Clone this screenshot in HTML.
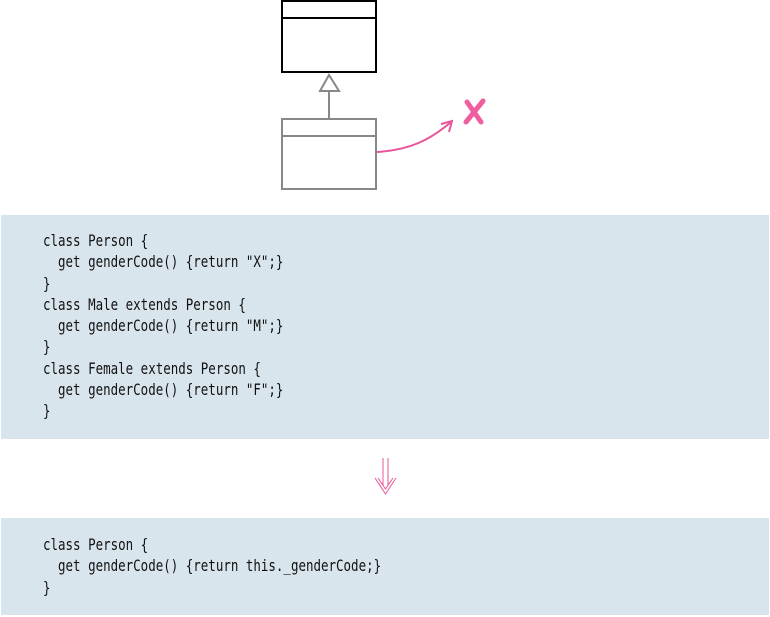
<!DOCTYPE html>
<html><head><meta charset="utf-8"><style>
body{margin:0;width:770px;height:617px;background:#fff;position:relative;overflow:hidden}
.p{position:absolute;left:1px;width:768px;background:#d9e5ec}
pre{position:absolute;left:43px;margin:0;font-family:"DejaVu Sans Mono","Liberation Mono",monospace;font-size:16px;line-height:21.3px;color:#111;transform:scaleX(0.78);transform-origin:0 0}
</style></head><body>
<svg width="770" height="617" style="position:absolute;left:0;top:0">
<rect x="282" y="1" width="94" height="71" fill="none" stroke="#000" stroke-width="2"/>
<line x1="282" y1="18" x2="376" y2="18" stroke="#000" stroke-width="2"/>
<rect x="282" y="119" width="94" height="70" fill="none" stroke="#888" stroke-width="2"/>
<line x1="282" y1="136" x2="376" y2="136" stroke="#888" stroke-width="2"/>
<line x1="329" y1="91" x2="329" y2="119" stroke="#888" stroke-width="2"/>
<polygon points="329,75 320,91 339,91" fill="#fff" stroke="#888" stroke-width="2"/>
<path d="M377,152 C410,150 430,140 451,122" fill="none" stroke="#e8559a" stroke-width="2"/>
<path d="M441,124 L452,121 L449,132" fill="none" stroke="#e8559a" stroke-width="2"/>
<path d="M467,102 L481,122 M483,101 L466,122" stroke="#ee5f9f" stroke-width="5" stroke-linecap="round"/>
<line x1="383" y1="458" x2="383" y2="485" stroke="#e8559a" stroke-width="1"/>
<line x1="388" y1="458" x2="388" y2="485" stroke="#e8559a" stroke-width="1"/>
<path d="M375,478 L385.5,494 L396,478" fill="none" stroke="#e8559a" stroke-width="1"/>
<path d="M378,478 L385.5,489 L393,478" fill="none" stroke="#e8559a" stroke-width="1"/>
</svg>
<div class="p" style="top:215px;height:224px"></div>
<div class="p" style="top:518px;height:97px"></div>
<pre style="top:230px">class Person {
  get genderCode() {return "X";}
}
class Male extends Person {
  get genderCode() {return "M";}
}
class Female extends Person {
  get genderCode() {return "F";}
}</pre>
<pre style="top:534px">class Person {
  get genderCode() {return this._genderCode;}
}</pre>
</body></html>
